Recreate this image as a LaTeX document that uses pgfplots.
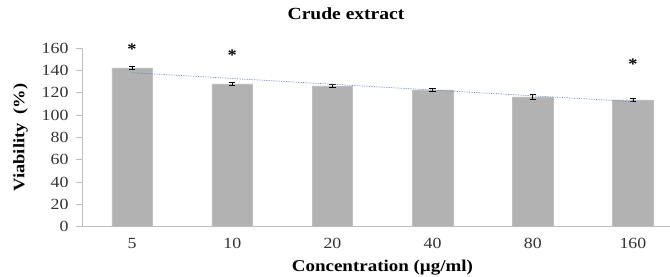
\documentclass[border=0pt]{standalone}
\usepackage{fontspec}
\setmainfont{Liberation Serif}[FakeStretch=1.15]
\usepackage{pgfplots}
\pgfplotsset{compat=1.18}
\definecolor{bargray}{RGB}{178,178,178}
\definecolor{axgray}{RGB}{190,190,190}
\definecolor{trendblue}{RGB}{95,125,195}
\begin{document}
\begin{tikzpicture}
\begin{axis}[
  scale only axis,
  width=588bp, height=178.7bp,
  xmin=-0.5, xmax=5.37,
  ymin=0, ymax=160,
  axis x line=bottom, axis y line=left,
  axis line style={-, draw=axgray, line width=0.8bp},
  xtick={0,1,2,3,4,5},
  xticklabels={5,10,20,40,80,160},
  x tick style={draw=none},
  ytick={0,20,40,60,80,100,120,140,160},
  y tick style={draw=axgray, line width=0.8bp},
  tick align=outside,
  major tick length=6bp,
  /pgf/number format/assume math mode=true,
  tick label style={font=\fontsize{15.5bp}{18bp}\selectfont, text=black!80},
  yticklabel style={xshift=-4bp},
  xticklabel style={yshift=-2bp},
  title={\textbf{Crude extract}},
  title style={at={(axis description cs:0.449,1.157)}, anchor=center, font=\fontsize{17bp}{20bp}\selectfont},
  xlabel={\textbf{Concentration (µg/ml)}},
  xlabel style={at={(axis description cs:0.511,-0.231)}, anchor=center, font=\fontsize{16.5bp}{19bp}\selectfont},
  ylabel={\textbf{Viability\ \ (\%)}},
  ylabel style={at={(axis description cs:-0.1046,0.5)}, anchor=center, rotate=0, font=\fontsize{16bp}{19bp}\selectfont},
  clip=false,
]
\addplot[ybar, bar width=0.405, fill=bargray, draw=bargray!85!white, line width=0.5bp,
  error bars/.cd, y dir=both, y explicit,
  error bar style={black, line width=0.7bp},
  error mark options={rotate=90, mark size=3.2bp, black, line width=0.7bp}]
  coordinates {
  (0,142.3) +- (0,1.5)
  (1,127.8) +- (0,1.2)
  (2,126.0) +- (0,1.5)
  (3,122.5) +- (0,1.3)
  (4,116.2) +- (0,2.5)
  (5,113.5) +- (0,1.2)
  };
\addplot[trendblue, densely dotted, line width=0.7bp] coordinates {(0,137.9) (5,112.0)};
\addplot[only marks, mark=none, nodes near coords={\textbf{*}},
  every node near coord/.append style={anchor=center, font=\fontsize{16bp}{19bp}\selectfont, inner sep=0pt}]
  coordinates {(0,158.7) (1,153.4) (5,145.3)};
\end{axis}
\pgfresetboundingbox
\path[use as bounding box] ([shift={(-82bp,-50.3bp)}]current axis.south west) rectangle ([shift={(588bp,226.7bp)}]current axis.south west);
\end{tikzpicture}
\end{document}
